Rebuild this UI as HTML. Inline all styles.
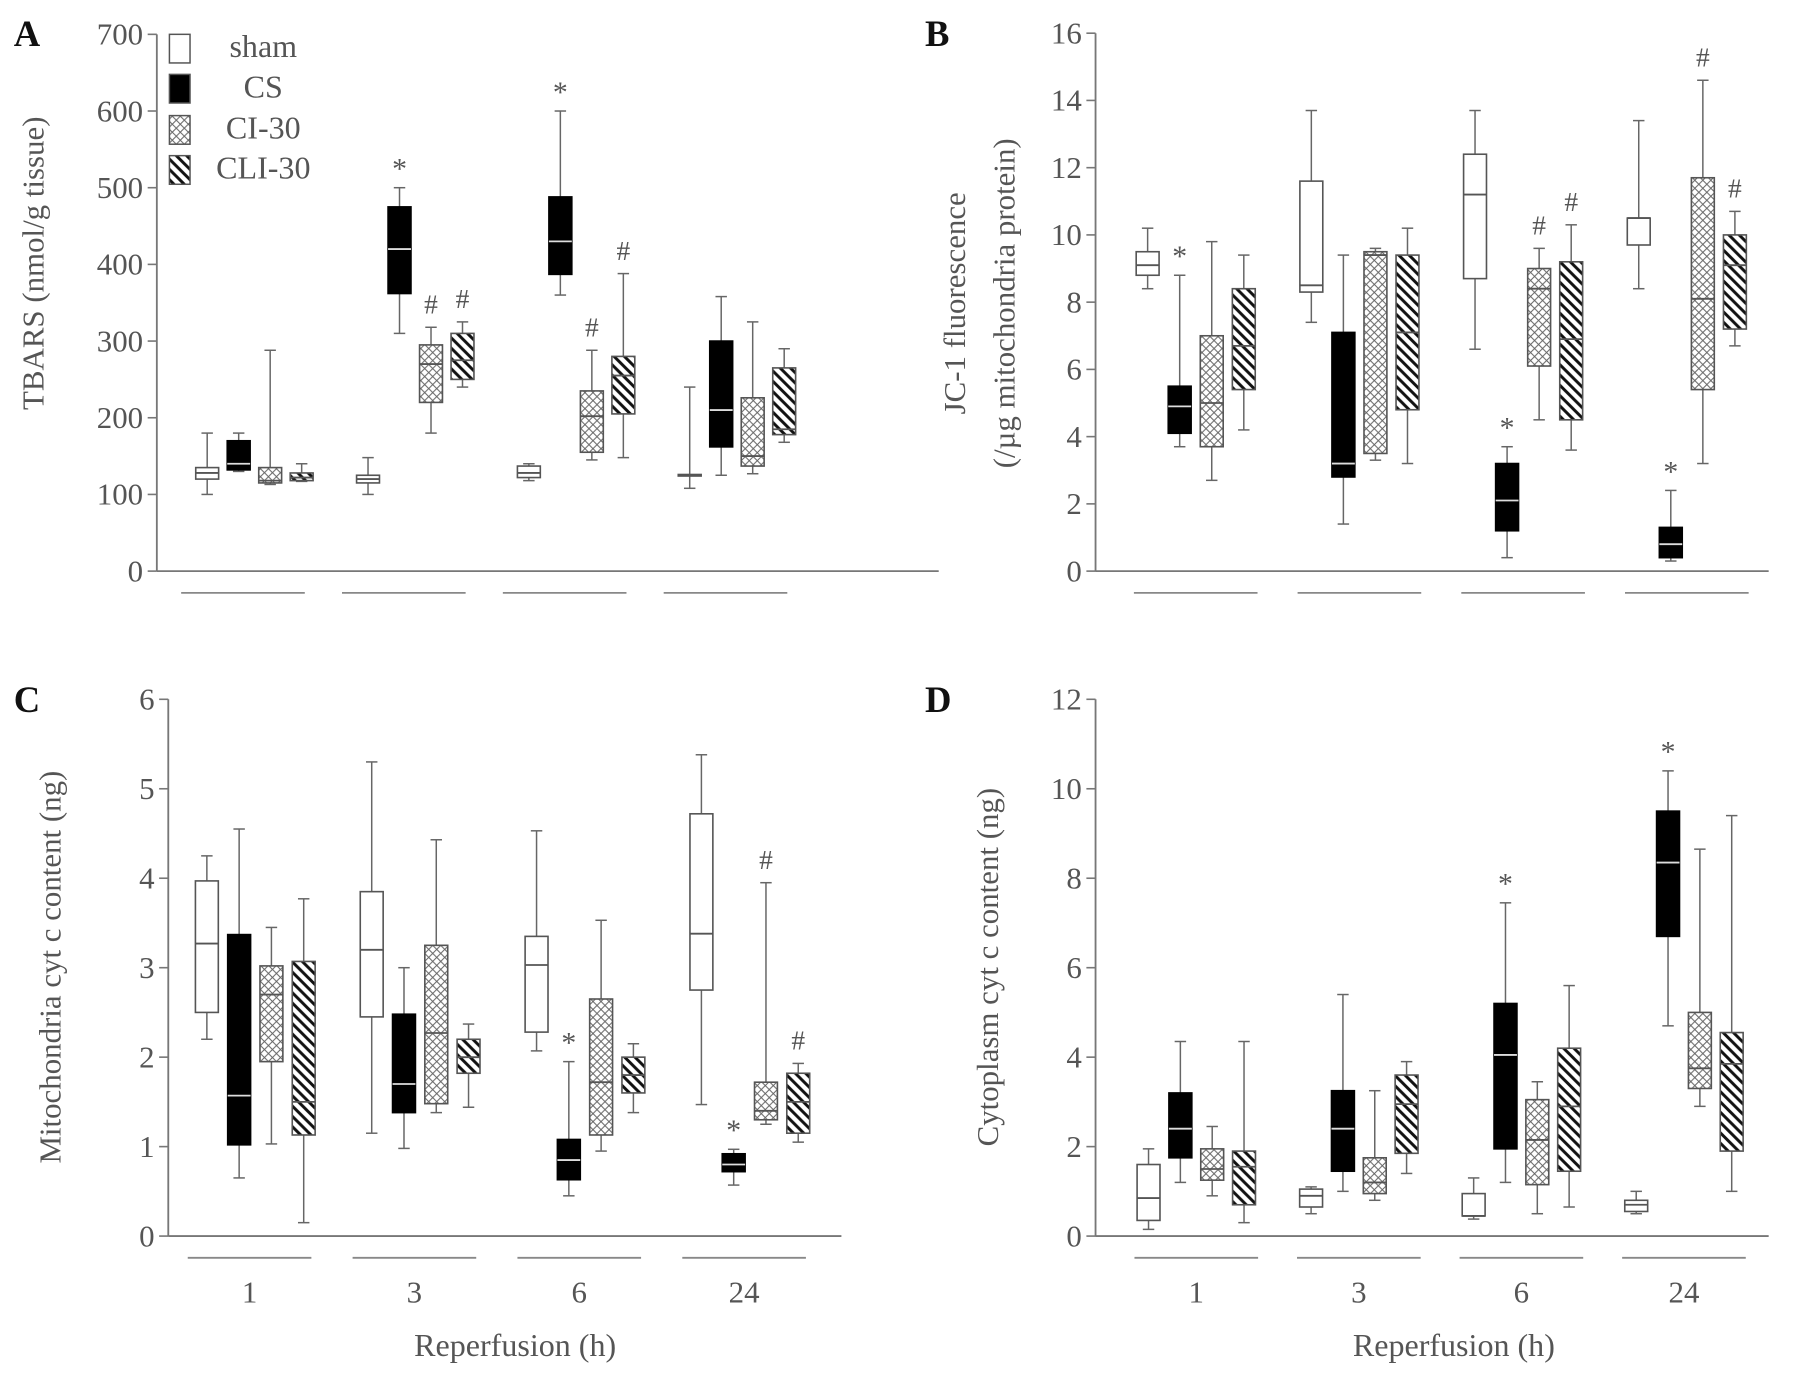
<!DOCTYPE html>
<html><head><meta charset="utf-8"><style>
html,body{margin:0;padding:0;background:#fff;}
svg{display:block;}
text{font-family:"Liberation Serif",serif;fill:#555;}
</style></head><body>
<svg id="fig" width="1795" height="1378" viewBox="0 0 1568 1204" preserveAspectRatio="none" xmlns="http://www.w3.org/2000/svg">
<defs>
<pattern id="cross" patternUnits="userSpaceOnUse" width="7" height="7">
<rect width="7" height="7" fill="#fff"/>
<path d="M0,0L7,7M7,0L0,7" stroke="#666" stroke-width="0.9"/>
</pattern>
<pattern id="diag" patternUnits="userSpaceOnUse" width="9" height="9">
<rect width="9" height="9" fill="#fff"/>
<path d="M-2,-2L11,11M-2,7L2,11M7,-2L11,2" stroke="#111" stroke-width="2.6"/>
</pattern>
</defs>
<g id="root"></g>
</svg>
<script>
// categories
const groups = ["1","3","6","24"];
const series = ["sham","CS","CI-30","CLI-30"];
// Panel A: TBARS [min,q1,med,q3,max] per group per series
const aSham = [[100,120,128,135,180],[100,115,120,125,148],[118,122,128,137,140],[108,124,125,126,240]];
const aCS   = [[130,132,140,170,180],[310,362,420,475,500],[360,387,430,488,600],[125,162,210,300,358]];
const aCI   = [[113,115,118,135,288],[180,220,270,295,318],[145,155,202,235,288],[127,137,150,226,325]];
const aCLI  = [[117,118,122,128,140],[240,250,275,310,325],[148,205,255,280,388],[168,178,185,265,290]];
const aTicks = [0,100,200,300,400,500,600,700];
const aMarks = [[1,1,"*"],[1,2,"#"],[1,3,"#"],[2,1,"*"],[2,2,"#"],[2,3,"#"]];
// Panel B: JC-1
const bSham = [[8.4,8.8,9.1,9.5,10.2],[7.4,8.3,8.5,11.6,13.7],[6.6,8.7,11.2,12.4,13.7],[8.4,9.7,10.5,10.5,13.4]];
const bCS   = [[3.7,4.1,4.9,5.5,8.8],[1.4,2.8,3.2,7.1,9.4],[0.4,1.2,2.1,3.2,3.7],[0.3,0.4,0.8,1.3,2.4]];
const bCI   = [[2.7,3.7,5.0,7.0,9.8],[3.3,3.5,9.4,9.5,9.6],[4.5,6.1,8.4,9.0,9.6],[3.2,5.4,8.1,11.7,14.6]];
const bCLI  = [[4.2,5.4,6.7,8.4,9.4],[3.2,4.8,7.1,9.4,10.2],[3.6,4.5,6.9,9.2,10.3],[6.7,7.2,9.1,10.0,10.7]];
const bTicks = [0,2,4,6,8,10,12,14,16];
const bMarks = [[0,1,"*"],[2,1,"*"],[2,2,"#"],[2,3,"#"],[3,1,"*"],[3,2,"#"],[3,3,"#"]];
// Panel C: mitochondria cyt c
const cSham = [[2.2,2.5,3.27,3.97,4.25],[1.15,2.45,3.2,3.85,5.3],[2.07,2.28,3.03,3.35,4.53],[1.47,2.75,3.38,4.72,5.38]];
const cCS   = [[0.65,1.02,1.57,3.37,4.55],[0.98,1.38,1.7,2.48,3.0],[0.45,0.63,0.85,1.08,1.95],[0.57,0.72,0.8,0.92,0.97]];
const cCI   = [[1.03,1.95,2.7,3.02,3.45],[1.38,1.48,2.27,3.25,4.43],[0.95,1.13,1.72,2.65,3.53],[1.25,1.3,1.4,1.72,3.95]];
const cCLI  = [[0.15,1.13,1.5,3.07,3.77],[1.44,1.82,2.0,2.2,2.37],[1.38,1.6,1.8,2.0,2.15],[1.05,1.15,1.5,1.82,1.93]];
const cTicks = [0,1,2,3,4,5,6];
const cMarks = [[2,1,"*"],[3,1,"*"],[3,2,"#"],[3,3,"#"]];
// Panel D: cytoplasm cyt c
const dSham = [[0.15,0.35,0.85,1.6,1.95],[0.5,0.65,0.9,1.05,1.1],[0.38,0.45,0.45,0.95,1.3],[0.5,0.55,0.7,0.8,1.0]];
const dCS   = [[1.2,1.75,2.4,3.2,4.35],[1.0,1.45,2.4,3.25,5.4],[1.2,1.95,4.05,5.2,7.45],[4.7,6.7,8.35,9.5,10.4]];
const dCI   = [[0.9,1.25,1.5,1.95,2.45],[0.8,0.95,1.2,1.75,3.25],[0.5,1.15,2.15,3.05,3.45],[2.9,3.3,3.75,5.0,8.65]];
const dCLI  = [[0.3,0.7,1.55,1.9,4.35],[1.4,1.85,2.95,3.6,3.9],[0.65,1.45,2.9,4.2,5.6],[1.0,1.9,3.85,4.55,9.4]];
const dTicks = [0,2,4,6,8,10,12];
const dMarks = [[2,1,"*"],[3,1,"*"]];

const NS="http://www.w3.org/2000/svg";
const root=document.getElementById('root');
function el(tag,attrs,parent){const e=document.createElementNS(NS,tag);for(const k in attrs)e.setAttribute(k,attrs[k]);(parent||root).appendChild(e);return e;}
function txt(s,attrs,parent){const t=el('text',attrs,parent);t.textContent=s;return t;}

const fills=["#fff","#000","url(#cross)","url(#diag)"];
const OFF=[-42,-14,14,42];

function panel(cfg){
  const g=el('g',{});
  
  
  const maxV=cfg.ticks[cfg.ticks.length-1];
  const y=v=>cfg.y0-(v/maxV)*(cfg.y0-cfg.yTop);
  const sc=cfg.bw/143;
  const gx=i=>cfg.x0+(i+0.5)*cfg.bw;
  const bx=(i,s)=>gx(i)+OFF[s]*sc;
  // axes
  const ya=el('line',{x1:cfg.ax,y1:cfg.yTop,x2:cfg.ax,y2:cfg.y0,stroke:'#777','stroke-width':1.6},g);
  
  
  const xa=el('line',{x1:cfg.ax,y1:cfg.y0,x2:cfg.axEnd,y2:cfg.y0,stroke:'#777','stroke-width':1.6},g);
  
  
  cfg.ticks.forEach(t=>{
    el('line',{x1:cfg.ax-8,y1:y(t),x2:cfg.ax,y2:y(t),stroke:'#777','stroke-width':1.4},g);
    const tl=txt(String(t),{x:cfg.ax-12,y:y(t)+9,'text-anchor':'end','font-size':27},g);
    
    
  });
  // group lines & labels
  groups.forEach((lab,i)=>{
    const c=gx(i)+cfg.lineOff;
    el('line',{x1:c-54,y1:cfg.y0+19,x2:c+54,y2:cfg.y0+19,stroke:'#888','stroke-width':1.6},g);
    if(cfg.showLabels){
      const tl=txt(lab,{x:c,y:cfg.y0+58,'text-anchor':'middle','font-size':27},g);
      
      
    }
  });
  // boxes
  const data=cfg.data;
  const w=20;
  data.forEach((ser,s)=>{
    ser.forEach((b,i)=>{
      const cx=bx(i,s);
      const bg=el('g',{},g);
      
      
      el('line',{x1:cx,y1:y(b[0]),x2:cx,y2:y(b[4]),stroke:'#666','stroke-width':1.3},bg);
      el('line',{x1:cx-5,y1:y(b[0]),x2:cx+5,y2:y(b[0]),stroke:'#666','stroke-width':1.3},bg);
      el('line',{x1:cx-5,y1:y(b[4]),x2:cx+5,y2:y(b[4]),stroke:'#666','stroke-width':1.3},bg);
      const h=Math.max(y(b[1])-y(b[3]),1);
      el('rect',{x:cx-w/2,y:y(b[3]),width:w,height:h,fill:fills[s],stroke:s==1?'#000':'#555','stroke-width':1.4},bg);
      el('line',{x1:cx-w/2,y1:y(b[2]),x2:cx+w/2,y2:y(b[2]),stroke:s==1?'#ddd':'#555','stroke-width':1.6},bg);
    });
  });
  cfg.marks.forEach(m=>{
    const b=data[m[1]][m[0]];
    const mk=txt(m[2],{x:bx(m[0],m[1]),y:y(b[4])-(m[2]=="*"?8:12),'text-anchor':'middle','font-size':m[2]=="*"?26:24},g);
    
    
  });
  const L=txt(cfg.letter,{x:cfg.lx,y:cfg.ly,'font-size':32,'font-weight':'bold',fill:'#111',style:'fill:#111'},g);
  
  
  return g;
}

panel({name:'panel-a-tbars',letter:'A',lx:12,ly:40,ax:137,axEnd:820,x0:152,bw:140.5,y0:499,yTop:30,ticks:aTicks,data:[aSham,aCS,aCI,aCLI],marks:aMarks,lineOff:-10,showLabels:false});
panel({name:'panel-b-jc1',letter:'B',lx:808,ly:40,ax:957,axEnd:1545,x0:973,bw:143,y0:499,yTop:29,ticks:bTicks,data:[bSham,bCS,bCI,bCLI],marks:bMarks,lineOff:0,showLabels:false});
panel({name:'panel-c-mito-cytc',letter:'C',lx:12,ly:622,ax:147,axEnd:735,x0:151,bw:144,y0:1080,yTop:611,ticks:cTicks,data:[cSham,cCS,cCI,cCLI],marks:cMarks,lineOff:-5,showLabels:true});
panel({name:'panel-d-cyto-cytc',letter:'D',lx:808,ly:622,ax:957,axEnd:1545,x0:974,bw:142,y0:1080,yTop:611,ticks:dTicks,data:[dSham,dCS,dCI,dCLI],marks:dMarks,lineOff:0,showLabels:true});
</script>
<script>
// static labels
(function(){
const NS="http://www.w3.org/2000/svg";
const root=document.getElementById('root');
function t(s,a){const e=document.createElementNS(NS,'text');for(const k in a)e.setAttribute(k,a[k]);e.textContent=s;root.appendChild(e);return e;}
let e;
e=t('TBARS  (nmol/g tissue)',{x:0,y:0,transform:'translate(38,230) rotate(-90)','text-anchor':'middle','font-size':27});


e=t('JC-1 fluorescence',{x:0,y:0,transform:'translate(843,265) rotate(-90)','text-anchor':'middle','font-size':27});


e=t('(/µg mitochondria protein)',{x:0,y:0,transform:'translate(886,265) rotate(-90)','text-anchor':'middle','font-size':27});


e=t('Mitochondria cyt c content (ng)',{x:0,y:0,transform:'translate(53,845) rotate(-90)','text-anchor':'middle','font-size':27});


e=t('Cytoplasm cyt c content (ng)',{x:0,y:0,transform:'translate(872,845) rotate(-90)','text-anchor':'middle','font-size':27});


e=t('Reperfusion (h)',{x:450,y:1185,'text-anchor':'middle','font-size':28});


e=t('Reperfusion (h)',{x:1270,y:1185,'text-anchor':'middle','font-size':28});


// legend
const labs=['sham','CS','CI-30','CLI-30'];
const fills=['#fff','#000','url(#cross)','url(#diag)'];
const ys=[30,65,101,136];
labs.forEach((l,i)=>{
  const r=document.createElementNS(NS,'rect');
  r.setAttribute('x',148);r.setAttribute('y',ys[i]);r.setAttribute('width',18);r.setAttribute('height',25);
  r.setAttribute('fill',fills[i]);r.setAttribute('stroke','#555');r.setAttribute('stroke-width',1.3);
  
  
  root.appendChild(r);
  const lt=t(l,{x:230,y:ys[i]+20,'text-anchor':'middle','font-size':28});
  
  
});
})();
</script>
</body></html>
